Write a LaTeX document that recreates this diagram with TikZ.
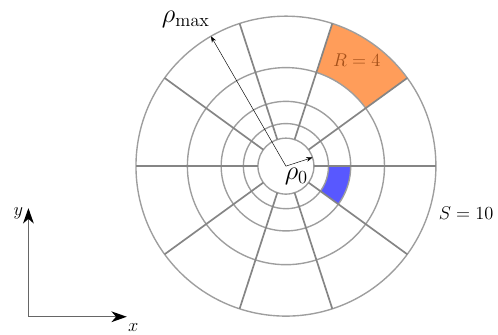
\documentclass[tikz,border=0pt]{standalone}
\usepackage{amsmath}
\usetikzlibrary{arrows.meta, positioning}
\definecolor{cellorange}{RGB}{255,157,90}
\definecolor{celltext}{RGB}{165,80,25}
\definecolor{cellblue}{RGB}{88,88,255}

\begin{document}
\begin{tikzpicture}[
  font=\normalsize,
  ringline/.style={draw=black!38, line width=0.9pt},
  spokeline/.style={draw=black!48, line width=1.1pt},
  radarrow/.style={draw=black, line width=0.3pt, -{Stealth[length=4pt, width=3pt]}},
  axisline/.style={draw=black!60, line width=0.8pt, -{Stealth[black, length=10pt, width=7pt, inset=3pt]}},
  lab/.style={inner sep=1pt}
]
\useasboundingbox (-6.54,-3.86) rectangle (4.85,3.80);

%--------------------------------------------------------------
% Raggi degli anelli (progressione geometrica)
%--------------------------------------------------------------
\def\rzero{0.64}
\def\rmax{3.43}
\pgfmathsetmacro{\rq}{(\rmax/\rzero)^0.25}
\pgfmathsetmacro{\rone}{\rzero*\rq}
\pgfmathsetmacro{\rtwo}{\rzero*\rq^2}
\pgfmathsetmacro{\rthree}{\rzero*\rq^3}

\coordinate (o) at (0,0);

%--------------------------------------------------------------
% Celle evidenziate
%--------------------------------------------------------------
\fill[cellorange] (36:\rthree) arc[start angle=36, end angle=72, radius=\rthree]
  -- (72:\rmax) arc[start angle=72, end angle=36, radius=\rmax] -- cycle;
\fill[cellblue] (-36:\rone) arc[start angle=-36, end angle=0, radius=\rone]
  -- (0:\rtwo) arc[start angle=0, end angle=-36, radius=\rtwo] -- cycle;

%--------------------------------------------------------------
% Griglia polare
%--------------------------------------------------------------
\foreach \r in {\rzero, \rone, \rtwo, \rthree, \rmax}{
  \draw[ringline] (o) circle[radius=\r];
}
\foreach \a in {0,36,...,324}{
  \draw[spokeline] (\a:\rzero) -- (\a:\rmax);
}

%--------------------------------------------------------------
% Raggi e etichette
%--------------------------------------------------------------
\coordinate (pmax) at (120:\rmax);
\coordinate (pzero) at (18:\rzero);
\draw[radarrow] (o) -- (pmax);
\draw[radarrow] (o) -- (pzero);

\node[lab, font=\LARGE] (rhomax) at (-2.29,3.36) {$\rho_{\max}$};
\node[lab, font=\LARGE] (rhozero) at (0.24,-0.24) {$\rho_0$};
\node[lab, font=\large, text=celltext] (rlab) at (1.62,2.42) {$R=4$};
\node[lab, font=\large] (slab) at (4.12,-1.07) {$S=10$};

%--------------------------------------------------------------
% Assi
%--------------------------------------------------------------
\coordinate (ax0) at (-5.89,-3.445);
\coordinate (axx) at (-3.64,-3.445);
\coordinate (axy) at (-5.89,-0.96);
\draw[axisline] (ax0) -- (axx);
\draw[axisline] (ax0) -- (axy);
\node[lab, font=\large] (xlab) at (-3.49,-3.69) {$x$};
\node[lab, font=\large] (ylab) at (-6.12,-1.08) {$y$};

\end{tikzpicture}
\end{document}
